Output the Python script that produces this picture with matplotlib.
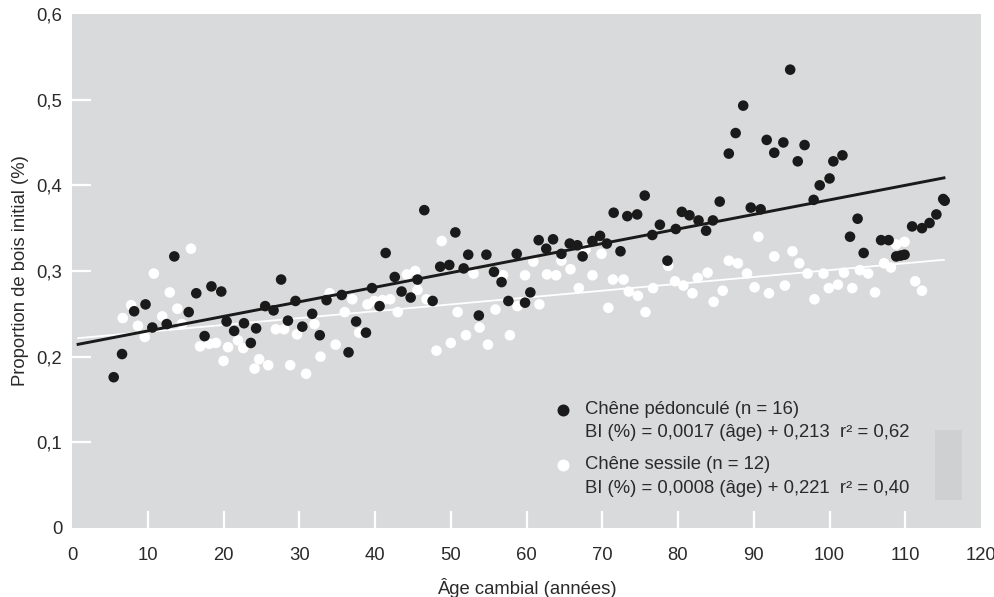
import matplotlib
matplotlib.use("Agg")
import matplotlib.pyplot as plt
from matplotlib.patches import Rectangle
from matplotlib.ticker import FuncFormatter
import numpy as np

plt.rcParams['font.family'] = ['Liberation Sans', 'DejaVu Sans']

# Chêne pédonculé (points noirs)
ped_age = [5.5, 6.6, 8.2, 9.7, 10.6, 12.5, 13.5, 15.4, 16.4, 17.5, 18.4, 19.7, 20.4, 21.4,
           22.7, 23.6, 24.3, 25.5, 26.6, 27.6, 28.5, 29.5, 30.4, 31.7, 32.7, 33.6, 35.6, 36.5,
           37.5, 38.8, 39.6, 40.6, 41.4, 42.6, 43.5, 44.7, 45.6, 46.5, 47.6, 48.6, 49.8, 50.6,
           51.7, 52.3, 53.7, 54.7, 55.7, 56.7, 57.6, 58.7, 59.8, 60.5, 61.6, 62.6, 63.5, 64.6,
           65.7, 66.7, 67.4, 68.7, 69.7, 70.6, 71.5, 72.4, 73.3, 74.6, 75.6, 76.6, 77.6, 78.6,
           79.7, 80.5, 81.5, 82.7, 83.7, 84.6, 85.5, 86.7, 87.6, 88.6, 89.6, 90.9, 91.7, 92.7,
           93.9, 94.8, 95.8, 96.7, 97.9, 98.7, 100.0, 100.5, 101.7, 102.7, 103.7, 104.5, 106.8,
           107.8, 108.8, 109.4, 109.9, 110.9, 112.2, 113.2, 114.1, 115.0, 115.2]
ped_bi = [0.176, 0.203, 0.253, 0.261, 0.234, 0.238, 0.317, 0.252, 0.274, 0.224, 0.282, 0.276,
          0.241, 0.230, 0.239, 0.216, 0.233, 0.259, 0.254, 0.290, 0.242, 0.265, 0.235, 0.250,
          0.225, 0.266, 0.272, 0.205, 0.241, 0.228, 0.280, 0.259, 0.321, 0.293, 0.276, 0.269,
          0.290, 0.371, 0.265, 0.305, 0.307, 0.345, 0.303, 0.319, 0.248, 0.319, 0.299, 0.287,
          0.265, 0.320, 0.263, 0.275, 0.336, 0.326, 0.337, 0.320, 0.332, 0.330, 0.317, 0.335,
          0.341, 0.332, 0.368, 0.323, 0.364, 0.366, 0.388, 0.342, 0.354, 0.312, 0.349, 0.369,
          0.365, 0.359, 0.347, 0.359, 0.381, 0.437, 0.461, 0.493, 0.374, 0.372, 0.453, 0.438,
          0.450, 0.535, 0.428, 0.447, 0.383, 0.400, 0.408, 0.428, 0.435, 0.340, 0.361, 0.321,
          0.336, 0.336, 0.317, 0.318, 0.319, 0.352, 0.350, 0.356, 0.366, 0.384, 0.382]

# Chêne sessile (points blancs)
ses_age = [6.7, 7.8, 8.7, 9.6, 10.8, 11.9, 12.9, 13.9, 14.5, 15.7, 16.9, 18.1, 19.0, 20.0,
           20.6, 21.9, 22.6, 24.1, 24.7, 25.9, 26.9, 28.0, 28.8, 29.7, 30.9, 32.0, 32.8, 34.0,
           34.8, 36.0, 37.0, 37.9, 39.0, 39.9, 41.0, 42.0, 43.0, 44.2, 45.3, 45.6, 46.8, 48.1,
           48.8, 50.0, 50.9, 52.0, 53.0, 53.8, 54.9, 55.9, 56.9, 57.8, 58.8, 59.8, 60.9, 61.7,
           62.7, 63.9, 64.6, 65.8, 66.9, 67.8, 68.7, 69.9, 70.8, 71.4, 72.8, 73.5, 74.7, 75.7,
           76.7, 78.7, 79.6, 80.7, 81.9, 82.6, 83.9, 84.7, 85.9, 86.7, 87.9, 89.1, 90.1, 90.6,
           92.0, 92.7, 94.1, 95.1, 96.0, 97.1, 98.0, 99.2, 99.9, 101.1, 101.9, 103.0, 104.0,
           105.1, 106.0, 107.2, 108.1, 108.8, 109.9, 111.3, 112.2]
ses_bi = [0.245, 0.260, 0.236, 0.223, 0.297, 0.247, 0.275, 0.256, 0.238, 0.326, 0.212, 0.215,
          0.216, 0.195, 0.211, 0.219, 0.210, 0.186, 0.197, 0.190, 0.232, 0.232, 0.190, 0.226,
          0.180, 0.238, 0.200, 0.274, 0.214, 0.252, 0.267, 0.228, 0.261, 0.265, 0.266, 0.267,
          0.252, 0.296, 0.300, 0.278, 0.267, 0.207, 0.335, 0.216, 0.252, 0.225, 0.297, 0.234,
          0.214, 0.255, 0.295, 0.225, 0.259, 0.295, 0.311, 0.261, 0.296, 0.295, 0.312, 0.302,
          0.280, 0.325, 0.295, 0.320, 0.257, 0.290, 0.290, 0.276, 0.271, 0.252, 0.280, 0.306,
          0.288, 0.283, 0.274, 0.292, 0.298, 0.264, 0.277, 0.312, 0.309, 0.297, 0.281, 0.340,
          0.274, 0.317, 0.283, 0.323, 0.309, 0.297, 0.267, 0.297, 0.280, 0.284, 0.298, 0.280,
          0.301, 0.297, 0.275, 0.309, 0.304, 0.331, 0.334, 0.288, 0.277]

# droites de regression
ped_pente, ped_orig, ped_r2 = 0.0017, 0.213, '0,62'
ses_pente, ses_orig, ses_r2 = 0.0008, 0.221, '0,40'
age_min, age_max = 0.8, 115.1

def virgule(v):
    return ("%g" % v).replace(".", ",")

fig = plt.figure(figsize=(9.95, 5.97), dpi=100)
ax = fig.add_axes([0.0724, 0.1156, 0.9136, 0.861])
bg = '#d9dadc'
txt = '#2a2a2a'
ax.set_facecolor(bg)
for s in ax.spines.values():
    s.set_visible(False)

ax.scatter(ses_age, ses_bi, s=58, color='white', edgecolors='none', zorder=2)
xx = np.array([age_min, age_max])
ax.plot(xx, ses_pente * xx + ses_orig, color='white', lw=1.3, zorder=3)
ax.plot(xx, ped_pente * xx + ped_orig, color='#1a1a1a', lw=2.1, zorder=3)
ax.scatter(ped_age, ped_bi, s=58, color='#1a1a1a', edgecolors='none', zorder=4)

ax.set_xlim(0, 120)
ax.set_ylim(0, 0.6)
ax.set_xticks(np.arange(0, 121, 10))
ax.set_yticks(np.arange(0, 0.61, 0.1))
ax.yaxis.set_major_formatter(FuncFormatter(lambda v, p: virgule(round(v, 1))))
ax.tick_params(axis='both', direction='in', color='white', width=1.6,
               labelsize=13.3, labelcolor=txt)
ax.tick_params(axis='y', length=14, pad=7)
ax.tick_params(axis='x', length=12, pad=14)
# pas de trait de graduation aux extremites
for t in (ax.xaxis.get_major_ticks()[0], ax.xaxis.get_major_ticks()[-1],
          ax.yaxis.get_major_ticks()[0], ax.yaxis.get_major_ticks()[-1]):
    t.tick1line.set_visible(False)

ax.set_xlabel('Âge cambial (années)', fontsize=13.3, color=txt, labelpad=10)
ax.set_ylabel('Proportion de bois initial (%)', fontsize=13.3, color=txt, labelpad=5)

# petit rectangle plus sombre
ax.add_patch(Rectangle((0.949, 0.0545), 0.03, 0.136, transform=ax.transAxes,
                       facecolor='#cfd0d2', edgecolor='none', zorder=1))

# legende
tx, mx = 0.564, 0.540
ax.scatter([mx], [0.2296], s=58, color='#1a1a1a', transform=ax.transAxes, zorder=5)
ax.text(tx, 0.2296, 'Chêne pédonculé (n = 16)', transform=ax.transAxes,
        va='center', fontsize=13.3, color=txt)
ax.text(tx, 0.1848, 'BI (%%) = %s (âge) + %s  r² = %s' % (virgule(ped_pente), virgule(ped_orig), ped_r2),
        transform=ax.transAxes, va='center', fontsize=13.3, color=txt)
ax.scatter([mx], [0.1226], s=58, color='white', transform=ax.transAxes, zorder=5)
ax.text(tx, 0.1226, 'Chêne sessile (n = 12)', transform=ax.transAxes,
        va='center', fontsize=13.3, color=txt)
ax.text(tx, 0.0759, 'BI (%%) = %s (âge) + %s  r² = %s' % (virgule(ses_pente), virgule(ses_orig), ses_r2),
        transform=ax.transAxes, va='center', fontsize=13.3, color=txt)

fig.savefig('out.png', dpi=100)
